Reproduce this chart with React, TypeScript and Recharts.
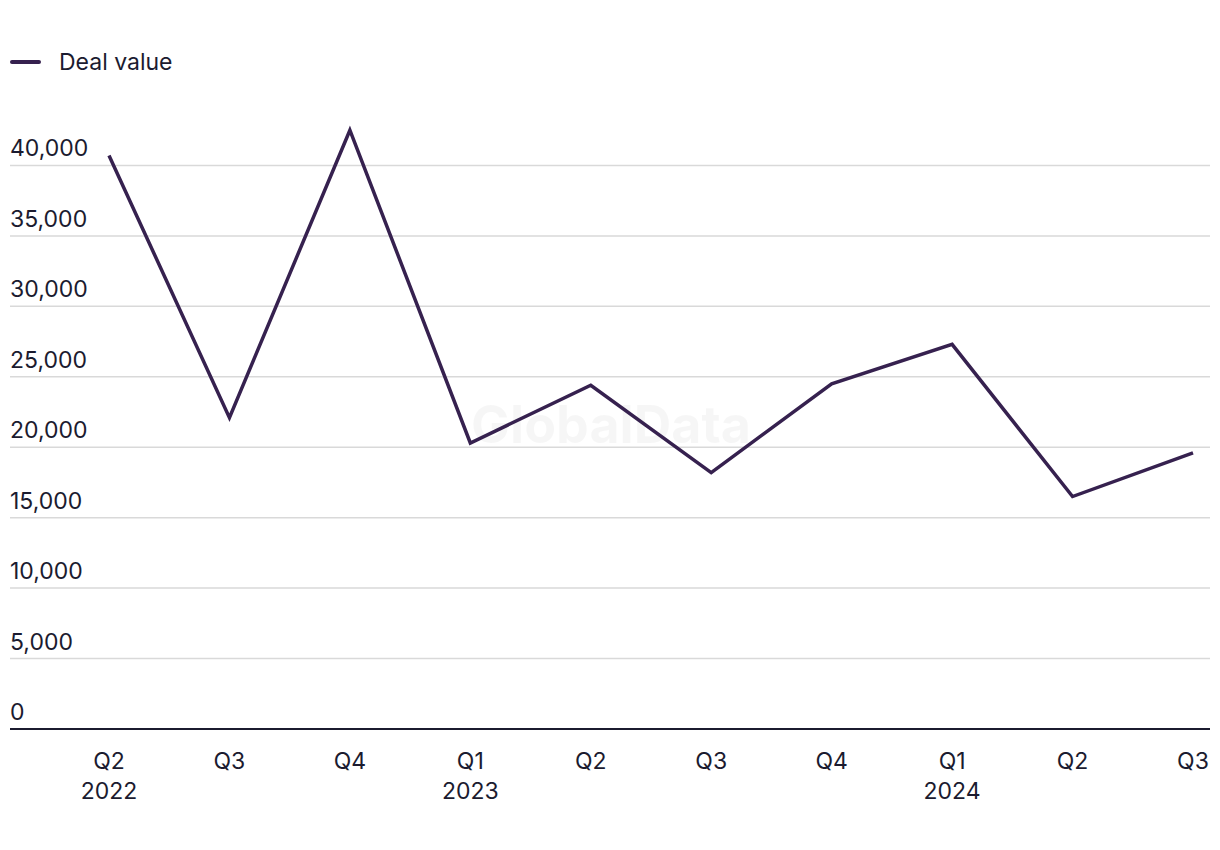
import React from "react";
import { LineChart, Line, XAxis, YAxis, CartesianGrid } from "recharts";

const quarters = ["Q2", "Q3", "Q4", "Q1", "Q2", "Q3", "Q4", "Q1", "Q2", "Q3"];
const years = ["2022", "", "", "2023", "", "", "", "2024", "", ""];
const dealValue = [40700, 22100, 42500, 20300, 24400, 18200, 24500, 27300, 16500, 19600];
const yTicks = [0, 5000, 10000, 15000, 20000, 25000, 30000, 35000, 40000];

const data = quarters.map((q, i) => ({
  key: `${q}-${i}`,
  quarter: q,
  year: years[i],
  value: dealValue[i],
}));

const FONT = "Inter, 'Liberation Sans', sans-serif";
const TEXT = "#1b1b2f";
const LINE = "#36214f";

const YTick = (props: any) => {
  const { y, payload } = props;
  return (
    <text x={10} y={y - 9} fill={TEXT} fontSize={23} fontFamily={FONT} textAnchor="start">
      {Number(payload.value).toLocaleString("en-US")}
    </text>
  );
};

const XTick = (props: any) => {
  const { x, y, index } = props;
  const row = data[index];
  return (
    <g>
      <text x={x} y={y + 32} fill={TEXT} fontSize={23} fontFamily={FONT} textAnchor="middle">
        {row.quarter}
      </text>
      {row.year ? (
        <text x={x} y={y + 62} fill={TEXT} fontSize={23} fontFamily={FONT} textAnchor="middle">
          {row.year}
        </text>
      ) : null}
    </g>
  );
};

const App = () => {
  return (
    <div style={{ position: "absolute", left: 0, top: 0, width: 1220, height: 850, background: "#fff" }}>
      <div
        style={{
          position: "absolute",
          left: 611,
          top: 424,
          transform: "translate(-50%, -50%)",
          fontFamily: FONT,
          fontWeight: 700,
          fontSize: 52,
          color: "rgba(0,0,0,0.035)",
          whiteSpace: "nowrap",
        }}
      >
        GlobalData
      </div>
      <div
        style={{
          position: "absolute",
          left: 10,
          top: 48,
          display: "flex",
          alignItems: "center",
          fontFamily: FONT,
          fontSize: 23,
          color: TEXT,
        }}
      >
        <span style={{ display: "inline-block", width: 31, height: 4, borderRadius: 2, background: LINE, marginRight: 18 }} />
        Deal value
      </div>
      <div style={{ position: "absolute", left: 0, top: 0 }}>
        <LineChart width={1220} height={850} data={data} margin={{ top: 95, right: 10, bottom: 20, left: -50 }}>
          <CartesianGrid vertical={false} stroke="#d9d9d9" strokeWidth={1.5} syncWithTicks />
          <XAxis
            dataKey="key"
            axisLine={{ stroke: TEXT, strokeWidth: 2 }}
            tickLine={false}
            tick={<XTick />}
            interval={0}
            height={101}
            padding={{ left: 99, right: 17 }}
          />
          <YAxis
            width={60}
            domain={[0, 45000]}
            ticks={yTicks}
            interval={0}
            axisLine={false}
            tickLine={false}
            tick={<YTick />}
          />
          <Line
            type="linear"
            dataKey="value"
            stroke={LINE}
            strokeWidth={3.5}
            dot={false}
            activeDot={false}
            isAnimationActive={false}
          />
        </LineChart>
      </div>
    </div>
  );
};

export default App;
